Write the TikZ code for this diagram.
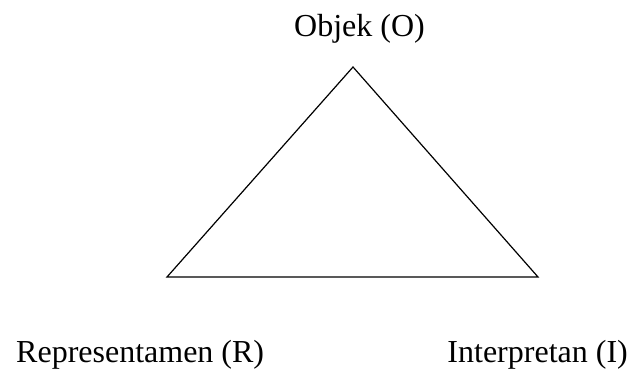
\documentclass[tikz,border=0pt]{standalone}
\usepackage{fontspec}
\setmainfont{Liberation Serif}
\begin{document}
\begin{tikzpicture}[x=1pt,y=1pt,
  lbl/.style={inner sep=0pt,font=\fontsize{32}{38}\selectfont},
  edge/.style={line width=1.2pt,line join=miter}]
\useasboundingbox (0,0) rectangle (629,369);
\coordinate (o) at (353,302);
\coordinate (r) at (167,92);
\coordinate (i) at (538,92);
\draw[edge] (o) -- (r) -- (i) -- cycle;
\node[lbl,anchor=base] (lo) at (359.5,332) {Objek (O)};
\node[lbl,anchor=base west] (lr) at (16,6) {Representamen (R)};
\node[lbl,anchor=base east] (li) at (628,6) {Interpretan (I)};
\end{tikzpicture}
\end{document}
